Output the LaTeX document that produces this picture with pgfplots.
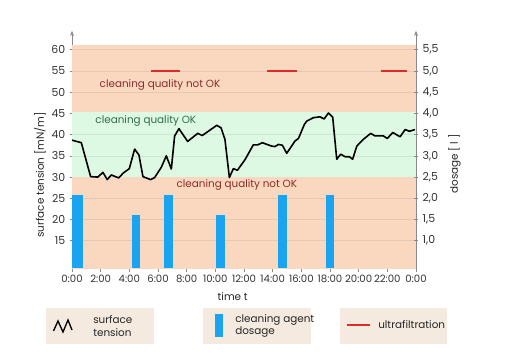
\documentclass[border=0pt]{standalone}
\usepackage{pgfplots}
\pgfplotsset{compat=1.18}
\usepackage{fontspec}
\setmainfont{Poppins}
\usetikzlibrary{arrows.meta}
\definecolor{bgorange}{HTML}{FAD8C0}
\definecolor{bggreen}{HTML}{DDF8E3}
\definecolor{barblue}{HTML}{1AA3EE}
\definecolor{ufred}{HTML}{DD2A2A}
\definecolor{txtred}{HTML}{8A2C2C}
\definecolor{txtgreen}{HTML}{2F6E50}
\definecolor{axgray}{HTML}{8A8A8A}
\definecolor{legfill}{HTML}{F4EAE0}
\begin{document}
\begin{tikzpicture}
\useasboundingbox (-54pt,-68.775pt) rectangle (326.25pt,201.225pt);
\pgfplotsset{every axis/.append style={
  scale only axis, width=258pt, height=178.2pt, xmin=0, xmax=24,
  font=\fontsize{7.5}{9}\selectfont,
  /pgf/number format/assume math mode=true,
  tick label style={black!80},
  yticklabel style={font=\fontsize{8.2}{9.5}\selectfont},
  xticklabel style={font=\fontsize{7.6}{9}\selectfont},
  axis line style={axgray, line width=0.6pt},
  major tick style={axgray, line width=0.5pt},
  major tick length=3pt,
}}
\begin{axis}[at={(0,0)}, anchor=south west,
  ymin=8.5, ymax=64.5,
  axis x line=bottom, axis y line=left,
  x axis line style={-},
  y axis line style={-{Stealth[length=4pt,width=3pt]}},
  xtick={0,2,...,24},
  xticklabels={0:00,2:00,4:00,6:00,8:00,10:00,12:00,14:00,16:00,18:00,20:00,22:00,0:00},
  ytick={15,20,...,60},
  x tick style={/pgfplots/tick align=outside},
  y tick style={/pgfplots/tick align=center},
  ]
  % background regions
  \addplot[fill=bgorange, draw=none] coordinates {(0,45.3)(0,61.2)(24,61.2)(24,45.3)} -- cycle;
  \addplot[fill=bggreen, draw=none] coordinates {(0,30)(0,45.3)(24,45.3)(24,30)} -- cycle;
  \addplot[fill=bgorange, draw=none] coordinates {(0,5)(0,30)(24,30)(24,5)} -- cycle;
  % faint grid lines
  \foreach \g in {15,20,25,35,40,50,55,60} {
    \edef\temp{\noexpand\addplot[black, opacity=0.07, line width=0.5pt] coordinates {(0,\g)(24,\g)};}
    \temp
  }
  % ultrafiltration
  \addplot[ufred, line width=1.8pt] coordinates {(5.5,55)(7.5,55)};
  \addplot[ufred, line width=1.8pt] coordinates {(13.6,55)(15.7,55)};
  \addplot[ufred, line width=1.8pt] coordinates {(21.55,55)(23.4,55)};
  % surface tension
  \addplot[black, line width=1.2pt, line join=round] coordinates {
  (0,38.7)(0.65,38.1)(1.3,30.1)(1.8,30)(2.16,31.1)(2.46,29.4)(2.74,30.5)(3.26,29.8)(3.56,30.9)(4.0,32.0)(4.37,36.6)(4.67,35.2)(4.95,30.1)(5.49,29.4)(5.77,29.9)(6.23,32.3)(6.58,35.0)(6.93,31.9)(7.16,39.7)(7.46,41.4)(8.07,38.4)(8.77,40.3)(9.09,39.8)(10.1,42.2)(10.4,41.6)(10.67,38.9)(10.98,29.9)(11.26,32.0)(11.54,31.6)(12.07,34.1)(12.65,37.6)(12.96,37.6)(13.28,38.1)(13.93,37.3)(14.17,37.2)(14.4,37.7)(14.68,37.5)(14.98,35.6)(15.56,38.5)(15.8,39.1)(16.21,42.4)(16.38,43.2)(16.84,44.0)(17.3,44.2)(17.59,43.7)(17.89,45.1)(18.19,44.1)(18.47,34.2)(18.75,35.4)(19.05,34.8)(19.35,34.8)(19.58,34.2)(19.87,37.3)(20.33,38.9)(20.84,40.3)(21.14,39.7)(21.72,39.7)(22.0,39.1)(22.38,40.5)(22.89,39.5)(23.24,41.2)(23.54,40.8)(23.93,41.2)};
  \node[txtred, font=\fontsize{7.8}{9}\selectfont] at (axis cs:6.14,51.8) {cleaning quality not OK};
  \node[txtgreen, font=\fontsize{7.8}{9}\selectfont] at (axis cs:5.15,43.2) {cleaning quality OK};
  \node[txtred, font=\fontsize{7.8}{9}\selectfont] at (axis cs:11.5,28.1) {cleaning quality not OK};
\end{axis}
\begin{axis}[at={(0,0)}, anchor=south west,
  ymin=0.35, ymax=5.95,
  axis x line=none, axis y line=right,
  y axis line style={-{Stealth[length=4pt,width=3pt]}},
  ytick={1,1.5,...,5.5},
  yticklabel style={/pgf/number format/.cd, fixed, fixed zerofill, precision=1, use comma},
  y tick style={/pgfplots/tick align=center},
  ]
  \addplot[fill=barblue, draw=none] coordinates {(0,2.07)(0.8,2.07)} \closedcycle;
  \addplot[fill=barblue, draw=none] coordinates {(4.17,1.61)(4.75,1.61)} \closedcycle;
  \addplot[fill=barblue, draw=none] coordinates {(6.42,2.07)(7.03,2.07)} \closedcycle;
  \addplot[fill=barblue, draw=none] coordinates {(10.05,1.61)(10.67,1.61)} \closedcycle;
  \addplot[fill=barblue, draw=none] coordinates {(14.4,2.07)(15.0,2.07)} \closedcycle;
  \addplot[fill=barblue, draw=none] coordinates {(17.7,2.07)(18.3,2.07)} \closedcycle;
\end{axis}
\begin{scope}[shift={(-54pt,201.225pt)}, x=0.75pt, y=-0.75pt, font=\fontsize{7.8}{9.5}\selectfont]
  \node[rotate=90, black!85] at (40,175) {surface tension [mN/m]};
  \node[rotate=90, black!85] at (454.5,164) {dosage [ l ]};
  \node[black!85] at (232.7,297) {time t};
  \fill[legfill] (45.7,308) rectangle (154,344);
  \fill[legfill] (202.7,308) rectangle (310.7,344);
  \fill[legfill] (340,308) rectangle (447,344);
  \draw[black, line width=1pt, line join=miter] (53.5,331) -- (58,321) -- (63,332) -- (68,320) -- (72,330);
  \node[anchor=west, align=left, black!85, inner sep=0pt] at (93,326) {surface\\tension};
  \fill[barblue] (215,314) rectangle (223,337);
  \node[anchor=west, align=left, black!85, inner sep=0pt] at (235,326) {cleaning agent\\dosage};
  \draw[ufred, line width=1.5pt] (347,325) -- (370,325);
  \node[anchor=west, black!85, inner sep=0pt] at (378,325) {ultrafiltration};
\end{scope}
\end{tikzpicture}
\end{document}
